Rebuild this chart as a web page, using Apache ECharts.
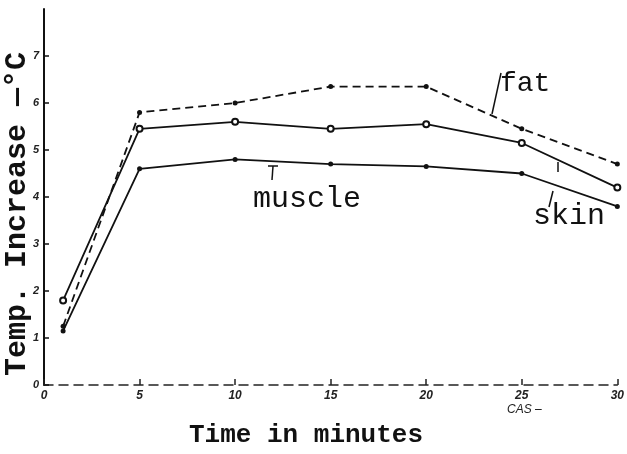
<!DOCTYPE html>
<html><head><meta charset="utf-8">
<script src="https://cdn.jsdelivr.net/npm/echarts@6/dist/echarts.min.js"></script>
<style>html,body{margin:0;padding:0;background:#fff}#c{width:627px;height:454px}</style>
</head><body><div id="c"></div>
<script>
// Data
const times  = [1, 5, 10, 15, 20, 25, 30];
const fat    = [1.25, 5.8, 6.0, 6.35, 6.35, 5.45, 4.7];
const skin   = [1.8, 5.45, 5.6, 5.45, 5.55, 5.15, 4.2];
const muscle = [1.15, 4.6, 4.8, 4.7, 4.65, 4.5, 3.8];
const xTickValues = [0, 5, 10, 15, 20, 25, 30];
const yTickValues = [0, 1, 2, 3, 4, 5, 6, 7];
const yTitle = 'Temp. Increase —°C';
const xTitle = 'Time in minutes';
const seriesLabels = ['fat', 'skin', 'muscle'];

const ink = '#111';
const mono = '"Liberation Mono", "DejaVu Sans Mono", monospace';
function pairs(ys) { return times.map((t, i) => [t, ys[i]]); }

const chart = echarts.init(document.getElementById('c'), null, {renderer: 'canvas'});
chart.setOption({
  backgroundColor: '#fff',
  animation: false,
  grid: {left: 44, right: 9, top: 9, bottom: 69, containLabel: false},
  xAxis: {
    type: 'value', min: 0, max: 30, interval: 5,
    axisLine: {show: true, lineStyle: {color: '#222', width: 1.5, type: [9, 6]}},
    axisTick: {show: true, inside: true, length: 6, lineStyle: {color: '#222', width: 1.5}},
    axisLabel: {show: true, margin: 5, color: '#222', fontSize: 12, fontStyle: 'italic', fontWeight: 'bold',
                fontFamily: '"Liberation Sans", sans-serif', customValues: xTickValues},
    splitLine: {show: false}
  },
  yAxis: {
    type: 'value', min: 0, max: 8, interval: 1,
    axisLine: {show: true, lineStyle: {color: ink, width: 2}},
    axisTick: {show: true, inside: true, length: 5, lineStyle: {color: ink, width: 1.5}, customValues: yTickValues},
    axisLabel: {show: true, margin: 5, color: '#222', fontSize: 11, fontStyle: 'italic', fontWeight: 'bold',
                fontFamily: '"Liberation Sans", sans-serif', customValues: yTickValues},
    splitLine: {show: false}
  },
  series: [
    {name: seriesLabels[0], type: 'line', data: pairs(fat), symbol: 'circle', symbolSize: 5,
     itemStyle: {color: ink}, lineStyle: {color: ink, width: 1.8, type: [8, 5]}},
    {name: seriesLabels[1], type: 'line', data: pairs(skin), symbol: 'emptyCircle', symbolSize: 6,
     itemStyle: {color: ink, borderColor: ink, borderWidth: 1.5}, lineStyle: {color: ink, width: 1.8}},
    {name: seriesLabels[2], type: 'line', data: pairs(muscle), symbol: 'circle', symbolSize: 5,
     itemStyle: {color: ink}, lineStyle: {color: ink, width: 1.8}}
  ],
  graphic: [
    {type: 'text', rotation: Math.PI / 2, x: 17, y: 214,
     style: {text: yTitle, font: 'bold 30px ' + mono, fill: ink, align: 'center', verticalAlign: 'middle',
             textAlign: 'center', textVerticalAlign: 'middle'}},
    {type: 'text', x: 306, y: 435,
     style: {text: xTitle, font: 'bold 26px ' + mono, fill: ink, align: 'center', verticalAlign: 'middle',
             textAlign: 'center', textVerticalAlign: 'middle'}},
    {type: 'text', x: 500, y: 84,
     style: {text: seriesLabels[0], font: '28px ' + mono, fill: ink, align: 'left', verticalAlign: 'middle',
             textAlign: 'left', textVerticalAlign: 'middle'}},
    {type: 'text', x: 533, y: 216,
     style: {text: seriesLabels[1], font: '30px ' + mono, fill: ink, align: 'left', verticalAlign: 'middle',
             textAlign: 'left', textVerticalAlign: 'middle'}},
    {type: 'text', x: 253, y: 199,
     style: {text: seriesLabels[2], font: '30px ' + mono, fill: ink, align: 'left', verticalAlign: 'middle',
             textAlign: 'left', textVerticalAlign: 'middle'}},
    {type: 'text', x: 507, y: 410,
     style: {text: 'CAS –', font: 'italic 12px "Liberation Sans", sans-serif', fill: '#222', align: 'left', verticalAlign: 'middle',
             textAlign: 'left', textVerticalAlign: 'middle'}},
    {type: 'line', shape: {x1: 501, y1: 73, x2: 492, y2: 114}, style: {stroke: ink, lineWidth: 1.5}},
    {type: 'line', shape: {x1: 273, y1: 166, x2: 272, y2: 180}, style: {stroke: ink, lineWidth: 1.5}},
    {type: 'line', shape: {x1: 268, y1: 166, x2: 278, y2: 166}, style: {stroke: ink, lineWidth: 1.5}},
    {type: 'line', shape: {x1: 549, y1: 207, x2: 553, y2: 191}, style: {stroke: ink, lineWidth: 1.5}},
    {type: 'line', shape: {x1: 558, y1: 172, x2: 558, y2: 162}, style: {stroke: ink, lineWidth: 1.5}}
  ]
});
</script></body></html>
